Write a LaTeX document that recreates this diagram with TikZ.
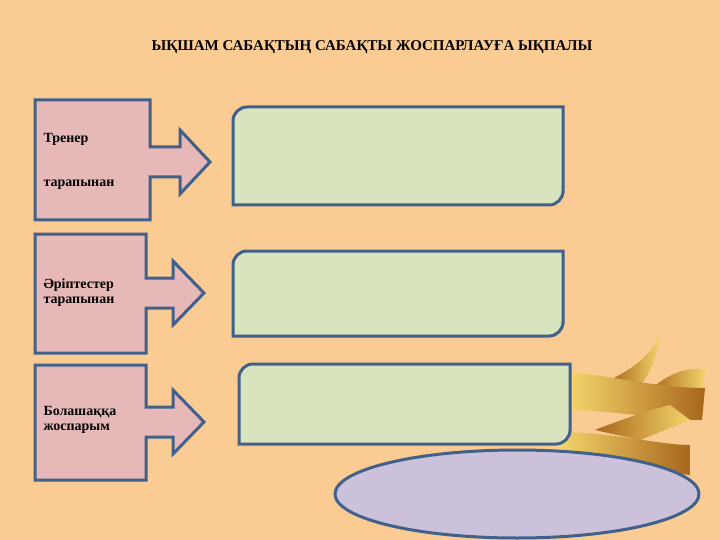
\documentclass[tikz,border=0pt]{standalone}
\usepackage{fontspec}
\setmainfont{Liberation Serif}
\usetikzlibrary{positioning}
\definecolor{bgc}{HTML}{FBCB94}
\definecolor{pinkc}{HTML}{E6B8B7}
\definecolor{greenc}{HTML}{D7E4BD}
\definecolor{lilac}{HTML}{CCC1DA}
\definecolor{edgec}{HTML}{41618A}
\definecolor{golda}{HTML}{F3D46A}
\definecolor{goldb}{HTML}{A8661C}
\tikzset{
  callout/.style={draw=edgec, line width=3pt, fill=pinkc},
  panel/.style={draw=edgec, line width=3pt, fill=greenc},
  lab/.style={font=\bfseries\fontsize{14}{15}\selectfont, align=left, anchor=west},
  ribbon/.style={left color=goldb, right color=golda}
}
\begin{document}
\begin{tikzpicture}[x=1pt,y=-1pt]
\useasboundingbox (0,0) rectangle (720,540);
\fill[bgc] (0,0) rectangle (720,540);

% title
\node[font=\bfseries\fontsize{15}{16}\selectfont] (title) at (372,47) {ЫҚШАМ САБАҚТЫҢ САБАҚТЫ ЖОСПАРЛАУҒА ЫҚПАЛЫ};

% ribbon
\shade[ribbon] (610,380) .. controls (640,365) and (655,350) .. (660,332) .. controls (658,360) and (645,385) .. (630,395) -- cycle;
\shade[left color=goldb, right color=golda] (650,390) .. controls (670,372) and (690,366) .. (705,370) -- (702,390) -- cycle;
\shade[left color=golda, right color=goldb] (570,372) .. controls (610,376) and (660,388) .. (705,388) -- (702,420) .. controls (660,420) and (610,410) .. (570,410) -- cycle;
\shade[left color=goldb, right color=golda] (595,430) .. controls (620,420) and (650,410) .. (670,405) -- (690,420) -- (640,440) -- cycle;
\shade[left color=golda, right color=goldb] (560,432) .. controls (610,432) and (660,445) .. (690,445) -- (690,475) .. controls (650,470) and (600,470) .. (560,470) -- cycle;

% left callouts
\foreach \t/\b/\r/\m/\hx/\tx in {100/220/150/162/180/210, 234/353/146/293/173/204, 365/480/146/422/173/204}
  \draw[callout] (35,\t) -- (\r,\t) -- (\r,\m-15) -- (\hx,\m-15) -- (\hx,\m-32) -- (\tx,\m)
    -- (\hx,\m+32) -- (\hx,\m+15) -- (\r,\m+15) -- (\r,\b) -- (35,\b) -- cycle;

\node[lab] (coach) at (40,139) {Тренер};
\node[lab] (coach2) at (40,185) {тарапынан};
\node[lab] (peers) at (40,293) {Әріптестер\\тарапынан};
\node[lab] (plan) at (40,420) {Болашаққа\\жоспарым};

% right panels
\foreach \l/\t/\r/\b in {233/107/563/205, 233/251/563/336, 239/364/570/444}
  \draw[panel] (\l,\b) -- (\l,\t+12) [rounded corners=14pt] -- (\l,\t) [sharp corners] -- (\r,\t)
    -- (\r,\b-12) [rounded corners=14pt] -- (\r,\b) [sharp corners] -- cycle;

% ellipse
\draw[edgec, line width=3pt, fill=lilac] (517,494) ellipse[x radius=182, y radius=44];
\end{tikzpicture}
\end{document}
